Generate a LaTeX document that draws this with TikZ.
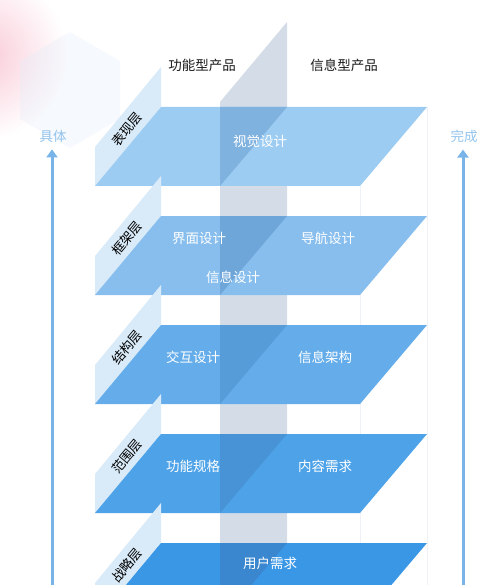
\documentclass[tikz,border=0pt]{standalone}
\usepackage{fontspec}
\setmainfont{Noto Sans CJK SC}
\usetikzlibrary{arrows.meta}

\definecolor{wallblue}{HTML}{D9EAF8}
\definecolor{stripgrey}{HTML}{D4DDE7}
\definecolor{guidegrey}{HTML}{EEF1F5}
\definecolor{arrowblue}{HTML}{78B4E8}
\definecolor{sidetext}{HTML}{93C4EC}
\definecolor{blush}{HTML}{F9CAD7}
\definecolor{hexpale}{HTML}{E6EDF9}
\definecolor{lyrA}{HTML}{9DCCF2}
\definecolor{lyrAd}{HTML}{80B2DF}
\definecolor{lyrB}{HTML}{87BEEE}
\definecolor{lyrBd}{HTML}{6FA6D9}
\definecolor{lyrC}{HTML}{64ADEA}
\definecolor{lyrCd}{HTML}{559CD8}
\definecolor{lyrD}{HTML}{4EA3E8}
\definecolor{lyrDd}{HTML}{4793D6}
\definecolor{lyrE}{HTML}{3A97E6}
\definecolor{lyrEd}{HTML}{3A87CF}

\tikzset{
	basefont/.style={font=\fontsize{13.5}{16}\selectfont},
	layertext/.style={basefont, text=white, inner sep=0pt},
	layerlabel/.style={font=\fontsize{13}{15}\selectfont, text=black, rotate=50, inner sep=0pt},
	headtext/.style={basefont, text=black!90, inner sep=0pt},
	sidelabel/.style={basefont, text=sidetext, inner sep=0pt},
	uparrow/.style={arrowblue, line width=3pt, -{Triangle[width=11pt,length=8pt]}, shorten >=7pt},
	guide/.style={guidegrey, line width=0.8pt}
}

\begin{document}
\begin{tikzpicture}[x=1pt,y=-1pt]
		\useasboundingbox (0,0) rectangle (500,585);
		\clip (0,0) rectangle (500,585);
		% background blob and hexagon
		\shade[inner color=blush, outer color=white] (-18,55) circle (85);
		\fill[hexpale, fill opacity=0.35] (70,32) -- (120,61) -- (120,119) -- (70,148) -- (20,119) -- (20,61) -- cycle;
		% divider between the two product types
		\fill[stripgrey] (220,102) -- (287,22) -- (287,585) -- (220,585) -- cycle;
		\draw[guide] (360,186) -- (360,585);
		\draw[guide] (427,107) -- (427,585);
		% the five planes
		\foreach \i/\fillc/\darkc/\name in {0/lyrA/lyrAd/表现层, 1/lyrB/lyrBd/框架层, 2/lyrC/lyrCd/结构层, 3/lyrD/lyrDd/范围层, 4/lyrE/lyrEd/战略层} {
			\pgfmathsetmacro{\yt}{107+109*\i}
			\pgfmathsetmacro{\yb}{\yt+79}
			\fill[wallblue] (95,\yb) -- (95,\yb-39) -- (161,\yt-40) -- (161,\yt) -- cycle;
			\fill[\fillc] (95,\yb) -- (161,\yt) -- (427,\yt) -- (360,\yb) -- cycle;
			\fill[\darkc] (220,\yt) -- (287,\yt) -- (220,\yb) -- cycle;
			\node[layerlabel] (wall\i) at (127,\yt+22) {\name};
		}
		% headings
		\node[headtext] (hdrFunc) at (202,65) {功能型产品};
		\node[headtext] (hdrInfo) at (344,65) {信息型产品};
		% plane contents
		\node[layertext] (visual) at (260,141) {视觉设计};
		\node[layertext] (iface) at (199,238) {界面设计};
		\node[layertext] (nav) at (328,238) {导航设计};
		\node[layertext] (infodes) at (233,277) {信息设计};
		\node[layertext] (interact) at (193,357) {交互设计};
		\node[layertext] (infoarch) at (325,357) {信息架构};
		\node[layertext] (funcspec) at (193,466) {功能规格};
		\node[layertext] (content) at (325,466) {内容需求};
		\node[layertext] (userneed) at (270,563) {用户需求};
		% side arrows
		\node[sidelabel] (concrete) at (53,136) {具体};
		\node[sidelabel] (done) at (464,136) {完成};
		\coordinate (baseL) at (52,590);
		\coordinate (baseR) at (463,590);
		\draw[uparrow] (baseL) -- (baseL |- concrete.south);
		\draw[uparrow] (baseR) -- (baseR |- done.south);
	\end{tikzpicture}
\end{document}
